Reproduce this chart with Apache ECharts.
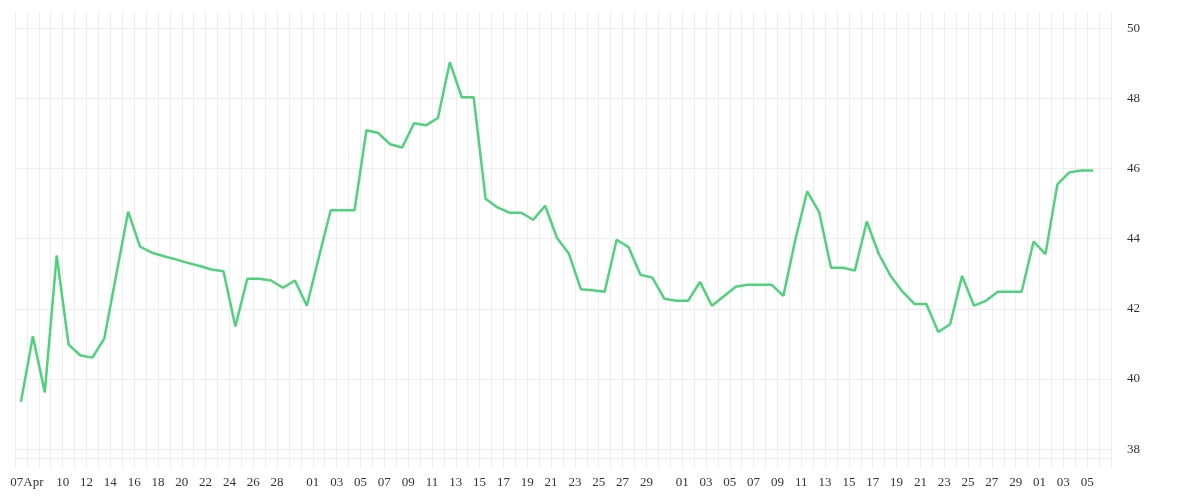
<!DOCTYPE html>
<html>
<head>
<meta charset="utf-8">
<script src="https://cdn.jsdelivr.net/npm/echarts@6/dist/echarts.min.js"></script>
<style>
  html, body { margin: 0; padding: 0; background: #fff; }
  #chart { width: 1200px; height: 500px; }
</style>
</head>
<body>
<div id="chart"></div>
<script>
// daily closing values, one per day
var dates = [
    "2025-04-06", "2025-04-07", "2025-04-08", "2025-04-09", "2025-04-10", "2025-04-11", "2025-04-12",
    "2025-04-13", "2025-04-14", "2025-04-15", "2025-04-16", "2025-04-17", "2025-04-18", "2025-04-19",
    "2025-04-20", "2025-04-21", "2025-04-22", "2025-04-23", "2025-04-24", "2025-04-25", "2025-04-26",
    "2025-04-27", "2025-04-28", "2025-04-29", "2025-04-30",
    "2025-05-01", "2025-05-02", "2025-05-03", "2025-05-04", "2025-05-05", "2025-05-06", "2025-05-07",
    "2025-05-08", "2025-05-09", "2025-05-10", "2025-05-11", "2025-05-12", "2025-05-13", "2025-05-14",
    "2025-05-15", "2025-05-16", "2025-05-17", "2025-05-18", "2025-05-19", "2025-05-20", "2025-05-21",
    "2025-05-22", "2025-05-23", "2025-05-24", "2025-05-25", "2025-05-26", "2025-05-27", "2025-05-28",
    "2025-05-29", "2025-05-30", "2025-05-31",
    "2025-06-01", "2025-06-02", "2025-06-03", "2025-06-04", "2025-06-05", "2025-06-06", "2025-06-07",
    "2025-06-08", "2025-06-09", "2025-06-10", "2025-06-11", "2025-06-12", "2025-06-13", "2025-06-14",
    "2025-06-15", "2025-06-16", "2025-06-17", "2025-06-18", "2025-06-19", "2025-06-20", "2025-06-21",
    "2025-06-22", "2025-06-23", "2025-06-24", "2025-06-25", "2025-06-26", "2025-06-27", "2025-06-28",
    "2025-06-29", "2025-06-30",
    "2025-07-01", "2025-07-02", "2025-07-03", "2025-07-04", "2025-07-05"
];

var values = [
    39.35, 41.22, 39.62, 43.52, 40.98, 40.67, 40.61,
    41.16, 42.97, 44.77, 43.77, 43.60, 43.50, 43.41,
    43.31, 43.22, 43.12, 43.07, 41.50, 42.86, 42.86,
    42.81, 42.60, 42.81, 42.09,
    43.46, 44.81, 44.81, 44.81, 47.09, 47.01, 46.69,
    46.60, 47.29, 47.23, 47.44, 49.03, 48.03, 48.03,
    45.14, 44.89, 44.74, 44.74, 44.54, 44.94, 44.02,
    43.57, 42.56, 42.53, 42.49, 43.97, 43.76, 42.97,
    42.89, 42.29, 42.23,
    42.23, 42.77, 42.09, 42.36, 42.63, 42.69, 42.69,
    42.69, 42.37, 43.97, 45.35, 44.76, 43.17, 43.17,
    43.09, 44.49, 43.57, 42.94, 42.49, 42.14, 42.14,
    41.34, 41.56, 42.94, 42.09, 42.23, 42.49, 42.49,
    42.49, 43.92,
    43.56, 45.55, 45.89, 45.94, 45.94
];

// x tick labels (shown dates and their text)
var labelDates = [
    "2025-04-07", "2025-04-10", "2025-04-12", "2025-04-14", "2025-04-16", "2025-04-18", "2025-04-20",
    "2025-04-22", "2025-04-24", "2025-04-26", "2025-04-28",
    "2025-05-01", "2025-05-03", "2025-05-05", "2025-05-07", "2025-05-09", "2025-05-11", "2025-05-13",
    "2025-05-15", "2025-05-17", "2025-05-19", "2025-05-21", "2025-05-23", "2025-05-25", "2025-05-27",
    "2025-05-29",
    "2025-06-01", "2025-06-03", "2025-06-05", "2025-06-07", "2025-06-09", "2025-06-11", "2025-06-13",
    "2025-06-15", "2025-06-17", "2025-06-19", "2025-06-21", "2025-06-23", "2025-06-25", "2025-06-27",
    "2025-06-29",
    "2025-07-01", "2025-07-03", "2025-07-05"
];
var labelTexts = [
    "07Apr", "10", "12", "14", "16", "18", "20", "22", "24", "26", "28",
    "01", "03", "05", "07", "09", "11", "13", "15", "17", "19", "21", "23", "25", "27", "29",
    "01", "03", "05", "07", "09", "11", "13", "15", "17", "19", "21", "23", "25", "27", "29",
    "01", "03", "05"
];

var yTicks = [38, 40, 42, 44, 46, 48, 50];

var DAY = 86400000;
function toTime(s) {
    var p = s.split("-");
    return Date.UTC(+p[0], +p[1] - 1, +p[2]);
}

var labelMap = {};
labelDates.forEach(function (d, i) {
    labelMap[toTime(d)] = labelTexts[i];
});

var seriesData = dates.map(function (d, i) {
    return [toTime(d) + DAY / 2, values[i]]; // points sit mid-day
});

var gridColor = "#eeeeee";
var textStyle = {
    fontFamily: "Liberation Serif",
    fontSize: 13,
    color: "#333",
};

var chart = echarts.init(document.getElementById("chart"), null, { renderer: "canvas" });

chart.setOption({
    backgroundColor: "#fff",
    animation: false,
    grid: {
        left: 15,
        right: 89,
        top: 12,
        bottom: 42,
        containLabel: false,
    },
    xAxis: {
        type: "value",
        min: toTime("2025-04-06"),
        max: toTime("2025-07-07"),
        interval: DAY,
        axisLine: { show: true, lineStyle: { color: gridColor, width: 1 } },
        axisTick: { show: true, length: 10, lineStyle: { color: gridColor } },
        splitLine: { show: true, lineStyle: { color: gridColor, width: 1 } },
        axisLabel: Object.assign({
            margin: 18,
            showMinLabel: true,
            showMaxLabel: true,
            formatter: function (v) {
                return labelMap[v] || "";
            },
        }, textStyle),
    },
    yAxis: {
        type: "value",
        position: "right",
        min: 37.75,
        max: 50.46,
        axisLine: { show: false },
        axisTick: { show: false, customValues: yTicks },
        splitLine: { show: true, lineStyle: { color: gridColor, width: 1 } },
        axisLabel: Object.assign({
            margin: 16,
            customValues: yTicks,
        }, textStyle),
    },
    series: [
        {
            type: "line",
            data: seriesData,
            showSymbol: false,
            symbol: "none",
            smooth: false,
            lineStyle: { color: "#4fd27c", width: 2.5 },
        },
    ],
});
</script>
</body>
</html>
